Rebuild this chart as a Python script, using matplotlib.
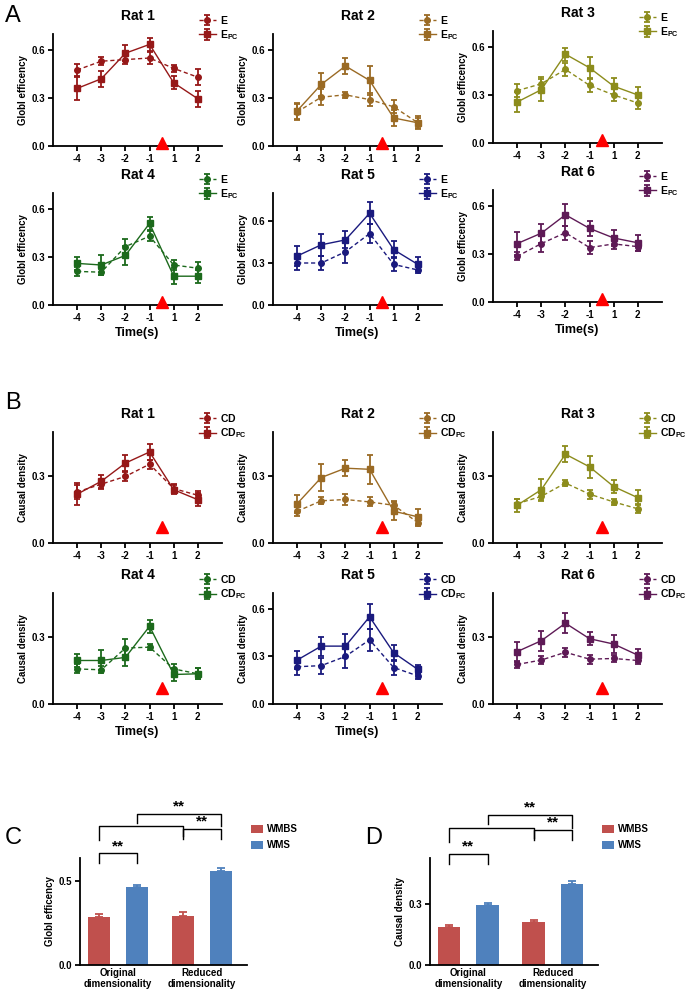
import matplotlib.pyplot as plt
import numpy as np

plt.rcParams['font.family'] = ['Liberation Sans', 'DejaVu Sans']
plt.rcParams['font.weight'] = 'bold'
plt.rcParams['axes.labelweight'] = 'bold'
plt.rcParams['mathtext.fontset'] = 'custom'
plt.rcParams['mathtext.bf'] = 'Liberation Sans:bold'
plt.rcParams['mathtext.rm'] = 'Liberation Sans:bold'

# data
times = ['-4', '-3', '-2', '-1', '1', '2']
rats = ['Rat 1', 'Rat 2', 'Rat 3', 'Rat 4', 'Rat 5', 'Rat 6']
rat_colors = ['#961818', '#9a6a24', '#8c8c1c', '#1c6a1c', '#1a1a7e', '#5e1a56']

ge_e = [[0.475, 0.53, 0.54, 0.55, 0.485, 0.43],
        [0.213, 0.305, 0.32, 0.29, 0.245, 0.145],
        [0.327, 0.37, 0.46, 0.36, 0.30, 0.25],
        [0.21, 0.205, 0.365, 0.43, 0.25, 0.23],
        [0.30, 0.30, 0.38, 0.51, 0.29, 0.25],
        [0.285, 0.365, 0.433, 0.34, 0.363, 0.346]]
ge_e_err = [[0.035, 0.025, 0.03, 0.035, 0.02, 0.05],
            [0.05, 0.05, 0.02, 0.04, 0.04, 0.03],
            [0.04, 0.04, 0.04, 0.04, 0.035, 0.035],
            [0.03, 0.02, 0.05, 0.03, 0.03, 0.04],
            [0.05, 0.05, 0.08, 0.07, 0.05, 0.025],
            [0.025, 0.05, 0.045, 0.04, 0.03, 0.03]]
ge_pc = [[0.36, 0.42, 0.58, 0.635, 0.395, 0.295],
         [0.22, 0.385, 0.50, 0.41, 0.175, 0.145],
         [0.256, 0.333, 0.555, 0.47, 0.355, 0.30],
         [0.26, 0.25, 0.31, 0.51, 0.18, 0.18],
         [0.35, 0.43, 0.465, 0.655, 0.395, 0.29],
         [0.365, 0.43, 0.545, 0.46, 0.40, 0.37]]
ge_pc_err = [[0.07, 0.05, 0.05, 0.04, 0.04, 0.05],
             [0.05, 0.07, 0.05, 0.09, 0.05, 0.04],
             [0.06, 0.07, 0.04, 0.065, 0.05, 0.05],
             [0.04, 0.06, 0.06, 0.04, 0.05, 0.04],
             [0.07, 0.08, 0.06, 0.08, 0.06, 0.05],
             [0.07, 0.06, 0.07, 0.045, 0.05, 0.05]]
ge_ylim = [0.7, 0.7, 0.7, 0.7, 0.8, 0.7]

cd_e = [[0.23, 0.265, 0.30, 0.355, 0.245, 0.215],
        [0.143, 0.19, 0.196, 0.185, 0.17, 0.092],
        [0.177, 0.21, 0.27, 0.22, 0.185, 0.154],
        [0.158, 0.154, 0.252, 0.256, 0.158, 0.136],
        [0.235, 0.242, 0.30, 0.405, 0.23, 0.177],
        [0.178, 0.198, 0.233, 0.202, 0.205, 0.196]]
cd_e_err = [[0.03, 0.02, 0.02, 0.02, 0.02, 0.02],
            [0.02, 0.015, 0.025, 0.02, 0.02, 0.015],
            [0.02, 0.015, 0.015, 0.02, 0.015, 0.02],
            [0.02, 0.015, 0.04, 0.015, 0.02, 0.025],
            [0.05, 0.05, 0.07, 0.07, 0.05, 0.02],
            [0.015, 0.02, 0.02, 0.02, 0.015, 0.015]]
cd_pc = [[0.22, 0.278, 0.36, 0.41, 0.24, 0.195],
         [0.177, 0.295, 0.337, 0.332, 0.143, 0.118],
         [0.17, 0.24, 0.40, 0.343, 0.254, 0.204],
         [0.196, 0.196, 0.21, 0.35, 0.133, 0.136],
         [0.277, 0.365, 0.365, 0.55, 0.323, 0.218],
         [0.236, 0.285, 0.364, 0.294, 0.27, 0.22]]
cd_pc_err = [[0.05, 0.03, 0.035, 0.035, 0.02, 0.03],
             [0.04, 0.06, 0.035, 0.065, 0.04, 0.035],
             [0.03, 0.05, 0.035, 0.05, 0.03, 0.035],
             [0.03, 0.045, 0.04, 0.03, 0.03, 0.025],
             [0.055, 0.06, 0.075, 0.08, 0.05, 0.03],
             [0.045, 0.045, 0.045, 0.03, 0.04, 0.03]]
cd_ylim = [0.5, 0.5, 0.5, 0.5, 0.7, 0.5]

groups = ['Original\ndimensionality', 'Reduced\ndimensionality']
ge_wmbs = [0.29, 0.295]
ge_wmbs_err = [0.015, 0.02]
ge_wms = [0.465, 0.56]
ge_wms_err = [0.015, 0.02]
cd_wmbs = [0.19, 0.213]
cd_wmbs_err = [0.008, 0.012]
cd_wms = [0.295, 0.40]
cd_wms_err = [0.01, 0.018]
bar_colors = ['#c0504d', '#4f81bd']

W, H = 689, 998
fig = plt.figure(figsize=(W / 100, H / 100), dpi=100)


def box(x0, y0, x1, y1):
    return [x0 / W, 1 - y1 / H, (x1 - x0) / W, (y1 - y0) / H]


def style(ax):
    for s in ['top', 'right']:
        ax.spines[s].set_visible(False)
    for s in ['left', 'bottom']:
        ax.spines[s].set_linewidth(1.3)
    ax.tick_params(width=1.3, length=3.5, labelsize=7, pad=2)


def rat_panel(ax, i, e, e_err, pc, pc_err, ymax, ylabel, lab, arrow_y, xlabel):
    c = rat_colors[i]
    x = np.arange(len(times))
    ax.errorbar(x, e, yerr=e_err, color=c, ls=(0, (3, 2)), lw=1, marker='o',
                ms=4, capsize=2.5, elinewidth=1.3, capthick=1.3, label=r'$\mathbf{' + lab + '}$')
    ax.errorbar(x, pc, yerr=pc_err, color=c, ls='-', lw=1, marker='s',
                ms=5, capsize=2.5, elinewidth=1.3, capthick=1.3,
                label=r'$\mathbf{' + lab + '_{PC}}$')
    ax.plot(3.5, arrow_y, marker='^', color='red', ms=8, clip_on=False, zorder=5)
    ax.set_xlim(-1, 6)
    ax.set_ylim(0, ymax)
    ax.set_xticks(x)
    ax.set_xticklabels(times)
    ax.set_yticks(np.arange(0, ymax + 0.01, 0.3))
    ax.set_yticklabels(['%.1f' % v for v in np.arange(0, ymax + 0.01, 0.3)])
    ax.set_ylabel(ylabel, fontsize=7, labelpad=3)
    ax.set_title(rats[i], fontsize=10, fontweight='bold', pad=10)
    if xlabel:
        ax.set_xlabel('Time(s)', fontsize=9, labelpad=3)
    style(ax)
    ax.legend(loc='upper left', bbox_to_anchor=(0.84, 1.22), frameon=False,
              fontsize=7.5, handlelength=1.6, handletextpad=0.4, labelspacing=0.25,
              borderaxespad=0)


lefts = [53, 273, 493]
# panel A
for i in range(6):
    col = i % 3
    row = i // 3
    y0 = [34, 193][row]
    if col == 2:
        y0 -= 3
    ax = fig.add_axes(box(lefts[col], y0, lefts[col] + 169, y0 + 112))
    rat_panel(ax, i, ge_e[i], ge_e_err[i], ge_pc[i], ge_pc_err[i], ge_ylim[i],
              'Globl efficency', 'E', 0.02 * ge_ylim[i] / 0.7, row == 1)

# panel B
for i in range(6):
    col = i % 3
    row = i // 3
    y0 = [432, 593][row]
    ax = fig.add_axes(box(lefts[col], y0, lefts[col] + 169, y0 + 111))
    rat_panel(ax, i, cd_e[i], cd_e_err[i], cd_pc[i], cd_pc_err[i], cd_ylim[i],
              'Causal density', 'CD', 0.07 * cd_ylim[i] / 0.5, row == 1 and col < 2)

fig.text(5 / W, 1 - 16 / H, 'A', fontsize=17, fontweight='normal', va='center')
fig.text(5 / W, 1 - 403 / H, 'B', fontsize=17, fontweight='normal', va='center')
fig.text(5 / W, 1 - 838 / H, 'C', fontsize=17, fontweight='normal', va='center')
fig.text(365 / W, 1 - 838 / H, 'D', fontsize=17, fontweight='normal', va='center')


def bar_panel(ax, wmbs, wmbs_err, wms, wms_err, ymax, yticks, ylabel, brackets):
    xr = np.array([0, 2.2])
    xb = xr + 1
    ax.bar(xr, wmbs, width=0.58, color=bar_colors[0], label='WMBS',
           yerr=[np.zeros(2), wmbs_err], error_kw=dict(ecolor=bar_colors[0], capsize=3, elinewidth=1.3, capthick=1.3))
    ax.bar(xb, wms, width=0.58, color=bar_colors[1], label='WMS',
           yerr=[np.zeros(2), wms_err], error_kw=dict(ecolor=bar_colors[1], capsize=3, elinewidth=1.3, capthick=1.3))
    ax.set_xlim(-0.5, 3.88)
    ax.set_ylim(0, ymax)
    ax.set_yticks(yticks)
    ax.set_yticklabels(['%.1f' % v for v in yticks])
    ax.set_xticks(xr + 0.5)
    ax.set_xticklabels(groups, fontsize=7.5)
    ax.set_ylabel(ylabel, fontsize=7, labelpad=3)
    style(ax)
    ax.tick_params(axis='x', length=0)
    for xa, xb2, yl, ya, yb, star in brackets:
        ax.plot([xa, xa, xb2, xb2], [ya, yl, yl, yb], color='black', lw=1, clip_on=False)
        if star:
            ax.text((xa + xb2) / 2, yl, '**', ha='center', va='bottom', fontsize=11)
    ax.legend(loc='upper left', bbox_to_anchor=(1.0, 1.35), frameon=False, fontsize=7,
              handlelength=1.2, handleheight=1.0, handletextpad=0.5, labelspacing=0.6,
              borderaxespad=0)


axc = fig.add_axes(box(80, 858, 247, 965))
bar_panel(axc, ge_wmbs, ge_wmbs_err, ge_wms, ge_wms_err, 0.64, [0.0, 0.5],
          'Globl efficency',
          [(0, 1, 0.667, 0.61, 0.61, True), (2.2, 3.2, 0.815, 0.755, 0.755, True),
           (0, 2.2, 0.83, 0.75, 0.77, False), (1, 3.2, 0.905, 0.85, 0.83, True)])

axd = fig.add_axes(box(430, 858, 598, 965))
bar_panel(axd, cd_wmbs, cd_wmbs_err, cd_wms, cd_wms_err, 0.53, [0.0, 0.3],
          'Causal density',
          [(0, 1, 0.55, 0.50, 0.50, True), (2.2, 3.2, 0.67, 0.62, 0.62, True),
           (0, 2.2, 0.68, 0.61, 0.63, False), (1, 3.2, 0.745, 0.70, 0.68, True)])

fig.savefig('out.png', dpi=100)
